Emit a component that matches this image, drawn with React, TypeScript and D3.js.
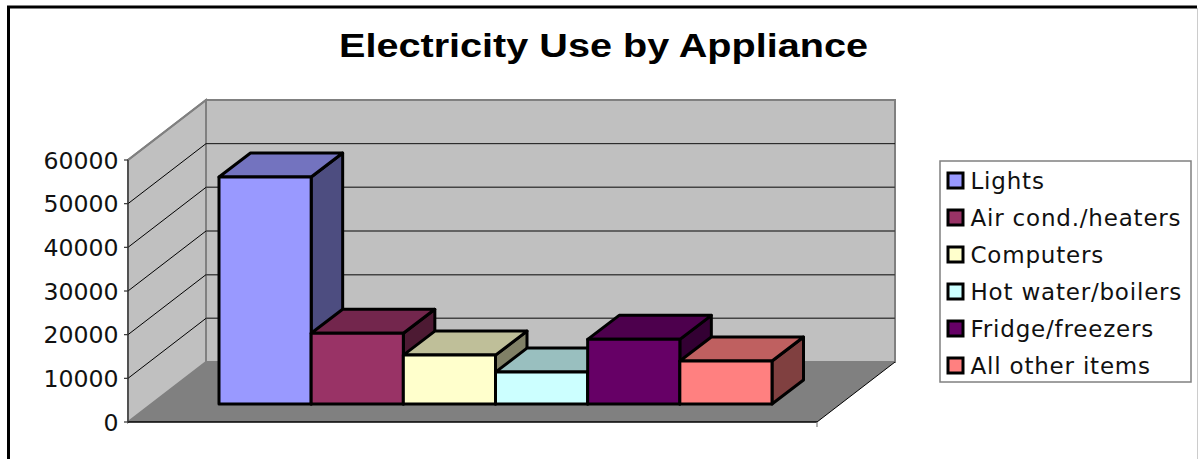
import React from "react";
import * as d3 from "d3";

const categories = ["Lights", "Air cond./heaters", "Computers", "Hot water/boilers", "Fridge/freezers", "All other items"];
const values = [52000, 16200, 11200, 7300, 14800, 9850];
const frontColors = ["#9999ff", "#993366", "#ffffcc", "#ccffff", "#660066", "#ff8080"];
const topColors = ["#7373bf", "#73264d", "#bfbf99", "#99bfbf", "#4d004d", "#bf6060"];
const sideColors = ["#4d4d80", "#4d1a33", "#808066", "#668080", "#330033", "#804040"];
const yTicks = [0, 10000, 20000, 30000, 40000, 50000, 60000];

const W = 1198, H = 459;
const x0 = 128, x1 = 817, depthX = 78, depthY = 60;
const y = d3.scaleLinear().domain([0, 60000]).range([422, 160]);
const barBand = d3.scaleBand<number>().domain(d3.range(categories.length)).range([219, 772]).padding(0);
const barBaseY = 404, barDX = 31.5, barDY = 24;
const barScaleOffset = barBaseY - y(0);
const pts = (p: [number, number][]) => p.map((d) => d.join(",")).join(" ");
const font = "'DejaVu Sans', Verdana, sans-serif";
const titleFont = "'Liberation Sans', Arial, sans-serif";

export default function App() {
  const top = y(60000), bot = y(0);
  return (
    <svg width={W} height={H} style={{ position: "absolute", left: 0, top: 0, display: "block" }}>
      <rect x={0} y={0} width={W} height={H} fill="#fff" />
      <path d={`M8.5 ${H}V7H1197`} fill="none" stroke="#000" strokeWidth={3} />
      <line x1={1197.5} x2={1197.5} y1={8} y2={H} stroke="#ccc" strokeWidth={1} />
      <text x={603.5} y={57} textAnchor="middle" fontFamily={titleFont} fontWeight="bold" fontSize={33} textLength={529} lengthAdjust="spacingAndGlyphs" fill="#000">Electricity Use by Appliance</text>

      {/* walls */}
      <polygon points={pts([[x0, bot], [x0 + depthX, bot - depthY], [x0 + depthX, top - depthY], [x0, top]])} fill="#c0c0c0" stroke="#808080" strokeWidth={2} />
      <polygon points={pts([[x0 + depthX, bot - depthY], [x1 + depthX, bot - depthY], [x1 + depthX, top - depthY], [x0 + depthX, top - depthY]])} fill="#c0c0c0" stroke="#808080" strokeWidth={2} />
      {/* floor */}
      <polygon points={pts([[x0, bot], [x0 + depthX, bot - depthY], [x1 + depthX, bot - depthY], [x1, bot]])} fill="#808080" />
      <line x1={x0} x2={x1} y1={bot} y2={bot} stroke="#000" strokeWidth={1.5} />
      <line x1={x1} x2={x1 + depthX} y1={bot} y2={bot - depthY} stroke="#000" strokeWidth={1} />
      {/* gridlines */}
      {yTicks.slice(1, -1).map((t) => (
        <g key={t}>
          <line x1={x0} y1={y(t)} x2={x0 + depthX} y2={y(t) - depthY} stroke="#000" strokeWidth={1} />
          <line x1={x0 + depthX} y1={y(t) - depthY} x2={x1 + depthX} y2={y(t) - depthY} stroke={t === 50000 ? "#111" : "#444"} strokeWidth={t === 50000 ? 1 : 1.5} />
        </g>
      ))}
      <line x1={x0 + depthX} y1={top - depthY} x2={x1 + depthX} y2={top - depthY} stroke="#808080" strokeWidth={2} />
      <line x1={x0} y1={top} x2={x0 + depthX} y2={top - depthY} stroke="#808080" strokeWidth={2} />
      {/* axis */}
      <line x1={x0} x2={x0} y1={top} y2={bot} stroke="#333" strokeWidth={1.2} />
      {yTicks.map((t) => (
        <g key={t}>
          <line x1={x0 - 4} x2={x0} y1={y(t)} y2={y(t)} stroke="#333" strokeWidth={1.2} />
          <text x={118.5} y={y(t) + 8.5} textAnchor="end" fontFamily={font} fontSize={23.6} fill="#111">{t}</text>
        </g>
      ))}
      <line x1={x1} x2={x1} y1={bot} y2={bot + 5} stroke="#808080" strokeWidth={1.2} />

      {/* bars */}
      {values.map((v, i) => {
        const l = barBand(i)!, r = l + barBand.bandwidth();
        const t = y(v) + barScaleOffset, b = barBaseY;
        return (
          <g key={i} stroke="#000" strokeWidth={3} strokeLinejoin="round">
            <polygon points={pts([[r, b], [r + barDX, b - barDY], [r + barDX, t - barDY], [r, t]])} fill={sideColors[i]} />
            <polygon points={pts([[l, t], [l + barDX, t - barDY], [r + barDX, t - barDY], [r, t]])} fill={topColors[i]} />
            <rect x={l} y={t} width={r - l} height={b - t} fill={frontColors[i]} />
          </g>
        );
      })}

      {/* legend */}
      <rect x={940} y={161} width={251} height={221} fill="#fff" stroke="#808080" strokeWidth={1.5} />
      {categories.map((c, i) => {
        const cy = 180.5 + i * 37;
        return (
          <g key={c}>
            <rect x={948} y={cy - 7.5} width={15} height={15} fill={frontColors[i]} stroke="#000" strokeWidth={3} />
            <text x={970.5} y={cy + 8} fontFamily={font} fontSize={23} letterSpacing={0.8} fill="#111">{c}</text>
          </g>
        );
      })}
    </svg>
  );
}
